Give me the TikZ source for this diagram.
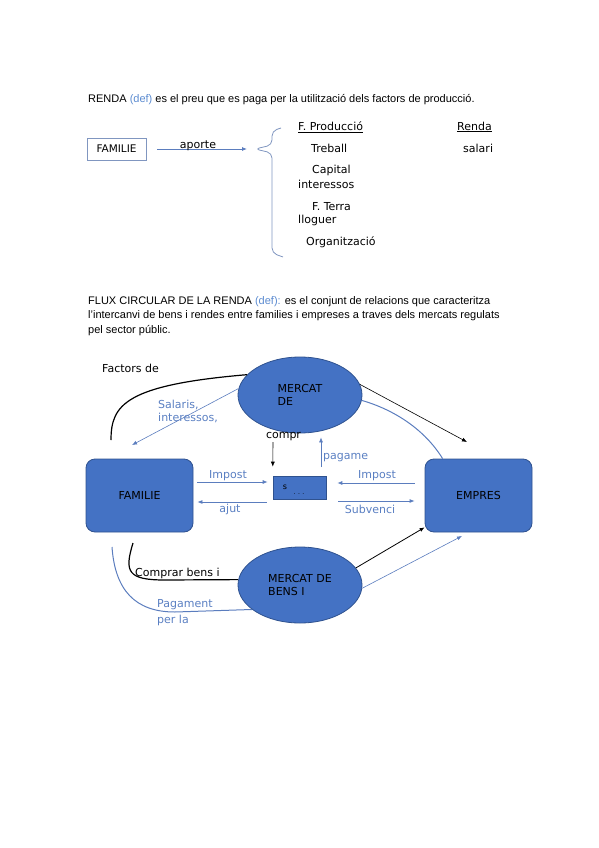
\documentclass[tikz,border=0pt]{standalone}
\usepackage{fontspec}
\setmainfont{Liberation Sans}
\newfontfamily\dejavu{DejaVu Sans}
\usetikzlibrary{arrows.meta,shapes.geometric}
\definecolor{boxblue}{HTML}{4472C4}
\definecolor{edgeblue}{HTML}{2F528F}
\definecolor{lineblue}{HTML}{5B7DBE}
\definecolor{labelblue}{HTML}{5A7FC2}
\definecolor{defblue}{HTML}{5B8BD0}
\definecolor{framegray}{HTML}{8096C0}
\begin{document}
\begin{tikzpicture}[x=1pt,y=-1pt,
	lab/.style={font=\dejavu\fontsize{11}{13}\selectfont,inner sep=0pt},
	bluelab/.style={lab,text=labelblue},
	ell/.style={ellipse,draw=edgeblue,fill=boxblue,line width=0.8pt,minimum width=124pt,minimum height=76pt,inner sep=0pt,lab,align=left},
	rbox/.style={draw=edgeblue,fill=boxblue,rounded corners=9pt,line width=0.8pt,minimum width=107pt,minimum height=73pt,lab},
	blkarrow/.style={-{Latex[length=5pt,width=4pt]},black,line width=0.6pt},
	bluearrow/.style={-{Latex[length=5pt,width=4pt]},lineblue,line width=0.8pt},
	blkline/.style={black,line width=1.2pt},
	blueline/.style={lineblue,line width=1pt}]
\useasboundingbox (0,0) rectangle (599,848);
%definition
\node[anchor=west,inner sep=0pt,font=\fontsize{11}{13}\selectfont] (renda) at (88,100)
	{RENDA \textcolor{defblue}{(def)} es el preu que es paga per la utilització dels factors de producció.};
%first scheme
\node[draw=framegray,line width=0.8pt,minimum width=59pt,minimum height=22pt,inner sep=0pt,font=\dejavu\fontsize{10.5}{12}\selectfont] (fam1) at (116.5,149) {FAMILIE};
\coordinate (clau) at (247,149);
\draw[bluearrow,shorten <=11pt] (fam1) -- (clau);
\node[lab,anchor=base] (aporte) at (198,148) {aporte};
\draw[framegray,line width=0.8pt,rounded corners=5pt] (281,128) -- (272,131) -- (272,145) -- (255,149) -- (272,153) -- (272,253) -- (283,257);
\node[lab,anchor=west] (fprod) at (298,127) {\underline{F. Producció}};
\node[lab,anchor=west] (rendacol) at (457,127) {\underline{Renda}};
\node[lab,anchor=west] (treball) at (311,148) {Treball};
\node[lab,anchor=west] (salari) at (463,148) {salari};
\node[lab,anchor=west] (capital) at (312,170) {Capital};
\node[lab,anchor=west] (interes) at (298,184) {interessos};
\node[lab,anchor=west] (terra) at (312,207) {F. Terra};
\node[lab,anchor=west] (lloguer) at (298,220) {lloguer};
\node[lab,anchor=west] (organ) at (306,242) {Organització};
%second definition
\node[anchor=north west,inner sep=0pt,align=left,font=\fontsize{11}{14.5}\selectfont] (flux) at (88,296)
	{FLUX CIRCULAR DE LA RENDA \textcolor{defblue}{(def):} es el conjunt de relacions que caracteritza\\
	l'intercanvi de bens i rendes entre families i empreses a traves dels mercats regulats\\
	pel sector públic.};
%circular flow
\node[ell] (mercat1) at (300,395) {MERCAT\\DE};
\node[ell] (mercat2) at (300,585) {MERCAT DE\\BENS I};
\node[rbox] (fam2) at (139.5,495.5) {FAMILIE};
\node[rbox] (emp) at (478.5,495.5) {EMPRES};
\node[draw=edgeblue,fill=boxblue,line width=0.6pt,minimum width=53pt,minimum height=23pt,inner sep=0pt] (sect) at (299.5,487.5) {};
\node[inner sep=0pt,font=\dejavu\fontsize{8}{9}\selectfont] (s1) at (285,487) {s};
\node[inner sep=0pt,font=\dejavu\fontsize{6}{7}\selectfont] (s2) at (299,494) {. . .};
%upper loop
\node[lab,anchor=west] (factors) at (102,368) {Factors de};
\coordinate (fs) at (111,440);
\draw[blkline] (fs) .. controls (111,405) and (125,385) .. (mercat1.159);
\coordinate (salend) at (132,445);
\draw[bluearrow,line width=0.6pt] (mercat1.174) -- (salend);
\node[bluelab,anchor=west] (sal1) at (158,405) {Salaris,};
\node[bluelab,anchor=west] (sal2) at (158,418) {interessos,};
\coordinate (ea) at (467,442);
\draw[blkarrow] (mercat1.10) -- (ea);
\draw[blueline] (mercat1.-5) .. controls (395,410) and (425,430) .. ([xshift=18pt]emp.north west);
%public sector
\node[lab] (compr) at (283.5,437) {compr};
\coordinate (c1) at (273,442);
\draw[blkarrow,shorten >=9pt] (c1) -- (sect.north west);
\coordinate (p1) at (321,467);
\draw[bluearrow,line width=0.6pt,shorten >=4pt] (p1) -- (p1 |- mercat1.south);
\node[bluelab,anchor=west] (pagame) at (323,458) {pagame};
\draw[bluearrow,shorten <=4pt,shorten >=5pt] ([yshift=13.5pt]fam2.east) -- ([yshift=13.5pt]fam2.east -| sect.west);
\node[bluelab] (imp1) at (228,476) {Impost};
\draw[bluearrow,shorten <=6pt,shorten >=4pt] ([yshift=-6.5pt]fam2.east -| sect.west) -- ([yshift=-6.5pt]fam2.east);
\node[bluelab] (ajut) at (230,509) {ajut};
\draw[bluearrow,shorten <=10pt,shorten >=11pt] ([yshift=12.5pt]emp.west) -- ([yshift=12.5pt]emp.west -| sect.east);
\node[bluelab] (imp2) at (377,476) {Impost};
\draw[bluearrow,shorten <=12pt,shorten >=10pt] ([yshift=-5.5pt]emp.west -| sect.east) -- ([yshift=-5.5pt]emp.west);
\node[bluelab] (subv) at (370,509) {Subvenci};
%lower loop
\coordinate (fb) at (133,543);
\draw[blkline] (fb) .. controls (124,572) and (128,580) .. (165,580) -- (mercat2.175);
\node[lab,anchor=west] (comprar) at (135,573) {Comprar bens i};
\coordinate (fc) at (112,547);
\draw[blueline] (fc) .. controls (115,590) and (135,612) .. (175,612) -- (mercat2.207);
\node[bluelab,anchor=west] (pag1) at (157,605) {Pagament};
\node[bluelab,anchor=west] (pag2) at (157,620) {per la};
\draw[blkarrow,line width=0.8pt] (mercat2.17) -- ([yshift=5pt]emp.south west);
\coordinate (eb) at (462,536);
\draw[bluearrow,line width=0.6pt] (mercat2.-3) -- (eb);
\end{tikzpicture}
\end{document}
